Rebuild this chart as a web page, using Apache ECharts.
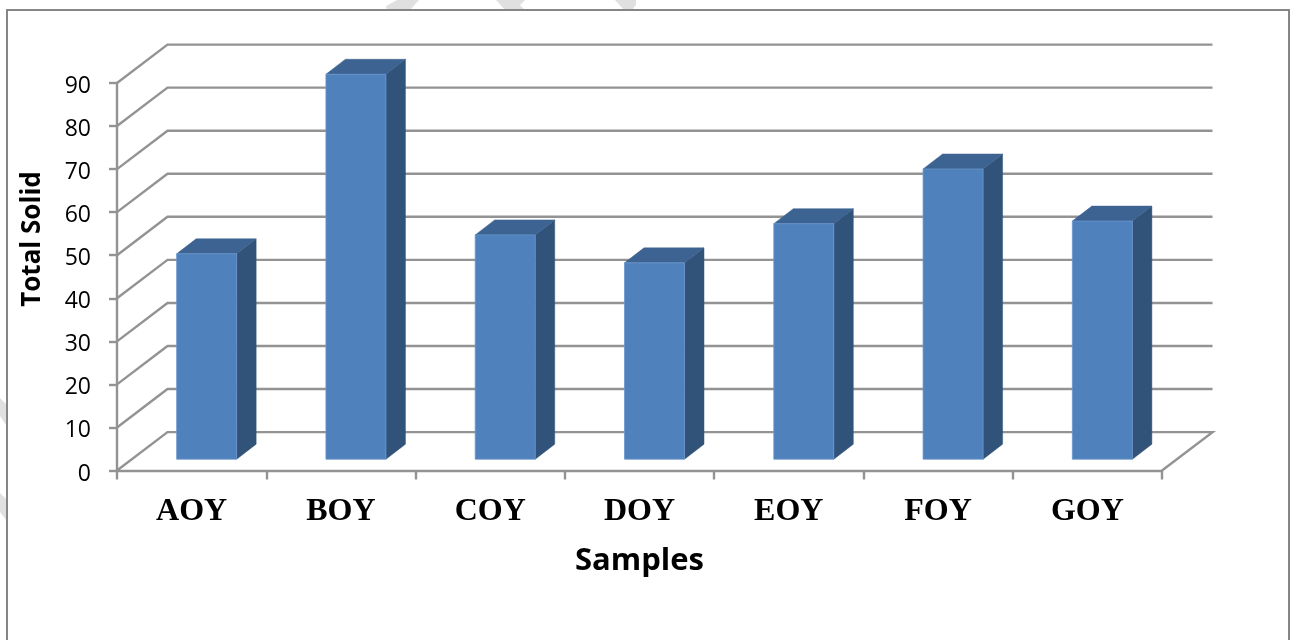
<!DOCTYPE html>
<html><head><meta charset="utf-8">
<style>html,body{margin:0;padding:0;background:#fff}#c{width:1293px;height:640px}</style>
<script src="https://cdn.jsdelivr.net/npm/echarts@6/dist/echarts.min.js"></script>
</head><body><div id="c"></div>
<script>
const categories = ['AOY','BOY','COY','DOY','EOY','FOY','GOY'];
const totalSolid = [47.7, 89.4, 52.1, 45.6, 54.7, 67.4, 55.3];
const yTicks = [0,10,20,30,40,50,60,70,80,90];

const GRID = '#939393';
const LINE_W = 2.4;
const WALL_DX = 50.5, WALL_DY = -38.4;     // depth of the 3D box
const BAR_W = 60, BAR_DX = 19.5, BAR_DY = -15; // bar width and depth
const BAR_OFF_X = 15, BAR_OFF_Y = -11.3;  // bar front-face offset into the floor

function pts(a){return {points:a};}
const chart = echarts.init(document.getElementById('c'), null, {renderer:'canvas'});
chart.setOption({
  animation:false,
  backgroundColor:'#fff',
  tooltip:{show:false},
  grid:{left:117,right:131,top:83,bottom:169.5,containLabel:false},
  xAxis:{
    type:'category', data:categories,
    axisLine:{show:true,lineStyle:{color:GRID,width:LINE_W}},
    axisTick:{show:true,length:9,lineStyle:{color:GRID,width:LINE_W}},
    axisLabel:{fontFamily:'Liberation Serif',fontWeight:'bold',fontSize:32,color:'#000',margin:25},
    name:'Samples',nameLocation:'middle',nameGap:75,
    nameTextStyle:{fontFamily:'Open Sans',fontWeight:'bold',fontSize:31,color:'#000'}
  },
  yAxis:{
    type:'value',min:0,max:90,interval:10,
    axisLine:{show:true,lineStyle:{color:GRID,width:LINE_W}},
    axisTick:{show:true,length:8,lineStyle:{color:GRID,width:LINE_W}},
    splitLine:{show:false},
    axisLabel:{fontFamily:'Open Sans',fontSize:23,color:'#000',margin:26,verticalAlign:'top',lineHeight:7}
  },
  series:[
    {
      type:'custom',name:'walls',silent:true,z:1,
      data:yTicks.map(t=>[0,t]),
      encode:{y:1},
      renderItem(params,api){
        const cs=params.coordSys;
        const y=api.coord([0,api.value(1)])[1];
        const x0=cs.x,x1=cs.x+cs.width;
        const p=[[x0,y],[x0+WALL_DX,y+WALL_DY],[x1+WALL_DX,y+WALL_DY]];
        if(api.value(1)===0)p.push([x1,y]);
        return {type:'polyline',shape:pts(p),style:{stroke:GRID,lineWidth:LINE_W,fill:null}};
      }
    },
    {
      type:'custom',name:'Total Solid',silent:true,z:2,
      data:categories.map((c,i)=>[i,totalSolid[i]]),
      encode:{x:0,y:1},
      renderItem(params,api){
        const i=api.value(0),v=api.value(1);
        const top=api.coord([i,v]),base=api.coord([i,0]);
        const x=top[0]-BAR_W/2+BAR_OFF_X;
        const yT=top[1]+BAR_OFF_Y,yB=base[1]+BAR_OFF_Y,x2=x+BAR_W;
        return {type:'group',children:[
          {type:'polygon',shape:pts([[x2,yT],[x2+BAR_DX,yT+BAR_DY],[x2+BAR_DX,yB+BAR_DY],[x2,yB]]),
           style:{fill:'#315379',stroke:'#315379',lineWidth:.5}},
          {type:'polygon',shape:pts([[x,yT],[x+BAR_DX,yT+BAR_DY],[x2+BAR_DX,yT+BAR_DY],[x2,yT]]),
           style:{fill:'#3c6391',stroke:'#3c6391',lineWidth:.5}},
          {type:'rect',shape:{x:x,y:yT,width:BAR_W,height:yB-yT},
           style:{fill:'#4f81bd',stroke:'#6a97cd',lineWidth:.8}}
        ]};
      }
    }
  ],
  graphic:[
    {type:'polygon',silent:true,z:-1,shape:pts([[387,10],[410,10],[419,0],[397,0],[386,6]]),style:{fill:'#e0e0e0'}},
    {type:'polygon',silent:true,z:-1,shape:pts([[505,10],[525,10],[520,5],[525,0],[496,0]]),style:{fill:'#e0e0e0'}},
    {type:'polygon',silent:true,z:-1,shape:pts([[615,0],[636,0],[636,5],[632,10],[624,10]]),style:{fill:'#e0e0e0'}},
    {type:'polygon',silent:true,z:-1,shape:pts([[0,398],[6,404],[6,425],[0,416]]),style:{fill:'#e0e0e0'}},
    {type:'polygon',silent:true,z:-1,shape:pts([[0,493],[6,499],[6,520],[0,512]]),style:{fill:'#e0e0e0'}},
    {type:'rect',silent:true,z:0,shape:{x:7,y:10,width:1282,height:660},style:{fill:null,stroke:'#868686',lineWidth:2}},
    {type:'text',silent:true,z:5,x:33,y:239,rotation:Math.PI/2,
     style:{text:'Total Solid',fontFamily:'Open Sans',fontWeight:'bold',fontSize:26,fill:'#000',align:'center',verticalAlign:'middle'}}
  ]
});
</script></body></html>
